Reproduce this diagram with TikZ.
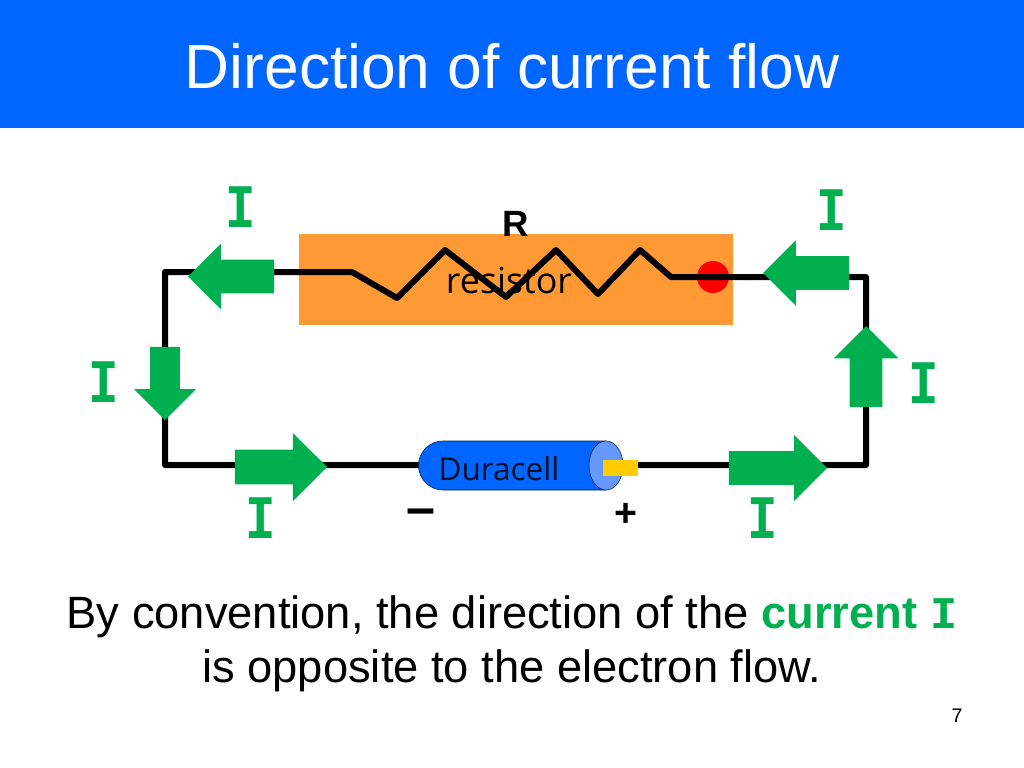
\documentclass[tikz,border=0pt]{standalone}
\usepackage{fontspec}
\setmainfont{Liberation Sans}
\setmonofont{Liberation Mono}
\newfontfamily\cellfont{Open Sans}
\usetikzlibrary{positioning,shapes.arrows,shapes.geometric}
\definecolor{slideblue}{HTML}{0066FF}
\definecolor{capblue}{HTML}{6699FF}
\definecolor{ampgreen}{HTML}{00B050}
\definecolor{resorange}{HTML}{FF9933}
\definecolor{termyellow}{HTML}{FFCC00}
\tikzset{
    wire/.style={
           draw=black,
           line width=0.15cm,
           line join=round},
    amp/.style={
           single arrow,
           fill=ampgreen,
           anchor=tip,
           outer sep=0pt,
           single arrow head indent=0pt},
    amphoriz/.style={
           amp,
           inner sep=0.4125cm,
           minimum width=1.625cm,
           single arrow head extend=0.4cm},
    ampvert/.style={
           amp,
           inner sep=0.38cm,
           minimum width=1.55cm,
           single arrow head extend=0.4cm},
    amplabel/.style={
           text=ampgreen,
           xscale=0.82,
           font=\ttfamily\bfseries\fontsize{44}{44}\selectfont}
}

\begin{document}
\begin{tikzpicture}[x=0.025cm,y=-0.025cm]
        \useasboundingbox (0,0) rectangle (1024,768);
        \fill[slideblue] (0,0) rectangle (1024,128);
        \node[text=white, font=\fontsize{44.3}{48}\selectfont] (title) at (512,66) {Direction of current flow};
        % resistor
        \fill[resorange] (299,234) rectangle (733,325);
        \fill[red] (713,277) circle (16);
        \node[font=\bfseries\fontsize{26}{30}\selectfont] (Rname) at (516,224) {R};
        \node[font=\cellfont\fontsize{25.5}{30}\selectfont] (Rtext) at (509,281) {resistor};
        % corners of the loop
        \coordinate (tl) at (165,272);
        \coordinate (tr) at (866,277);
        \coordinate (br) at (866,465);
        \coordinate (bl) at (165,465);
        \draw[wire] (tl) -- (352,272) -- (397,298) -- (445,250) -- (506,297) -- (556,250) -- (598,294) -- (640,250) -- (671,277) -- (tr) -- (br) -- (bl) -- cycle;
        % battery
        \draw[fill=slideblue, draw=black!70!slideblue, thin] (606,441) -- (443,441) arc (270:90:24.5) -- (606,490) -- cycle;
        \node[ellipse, draw=black!70!slideblue, thin, fill=capblue, minimum width=0.85cm, minimum height=1.225cm, inner sep=0pt] (cap) at (606,465.5) {};
        \fill[termyellow] (603,460) rectangle (638,476);
        \node[font=\cellfont\fontsize{22.4}{30}\selectfont, text=black!85!slideblue] (cell) at (499,469) {Duracell};
        \node[font=\bfseries\fontsize{37}{40}\selectfont] (minus) at (421,517) {–};
        \node[font=\bfseries\fontsize{28}{30}\selectfont] (plus) at (626,515) {+};
        % current arrows
        \node[amphoriz, minimum height=2.15cm, shape border rotate=180] (topL) at (188,276.5) {};
        \node[amphoriz, minimum height=2.15cm, shape border rotate=180] (topR) at (763,273) {};
        \node[ampvert, inner sep=0.4cm, minimum width=1.6cm, minimum height=2.025cm, shape border rotate=90] (upR) at (866,326) {};
        \node[ampvert, inner sep=0.3625cm, minimum width=1.45cm, minimum height=1.825cm, shape border rotate=270] (downL) at (165,420) {};
        \node[amphoriz, minimum height=2.3cm, minimum width=1.7cm] (botL) at (327,467) {};
        \node[amphoriz, minimum height=2.45cm, minimum width=1.65cm] (botR) at (827,468) {};
        \node[amplabel] (i1) at (241,207) {I};
        \node[amplabel] (i2) at (832,210) {I};
        \node[amplabel] (i3) at (104,382) {I};
        \node[amplabel] (i4) at (924,383) {I};
        \node[amplabel] (i5) at (261,518) {I};
        \node[amplabel] (i6) at (763,518) {I};
        % caption
        \node[align=center, font=\fontsize{32.2}{38.5}\selectfont] (caption) at (512,644) {By convention, the direction of the {\color{ampgreen}\bfseries current \ttfamily I}\\is opposite to the electron flow.};
        \node[font=\fontsize{14}{16}\selectfont] (pageno) at (957,716) {7};
\end{tikzpicture}
\end{document}
